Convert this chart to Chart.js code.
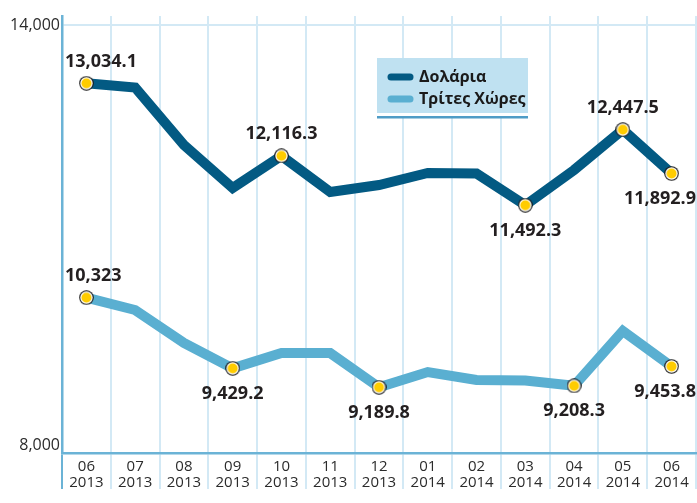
<!DOCTYPE html>
<html>
<head>
<meta charset="utf-8">
<script src="https://cdn.jsdelivr.net/npm/chart.js@4/dist/chart.umd.min.js"></script>
<style>
  html, body { margin: 0; padding: 0; background: #fff; }
  #wrap { width: 697px; height: 503px; position: relative; }
</style>
</head>
<body>
<div id="wrap"><canvas id="chart"></canvas></div>
<script>
// Μήνες / έτη του άξονα Χ
var months = ['06', '07', '08', '09', '10', '11', '12', '01', '02', '03', '04', '05', '06'];
var years = ['2013', '2013', '2013', '2013', '2013', '2013', '2013', '2014', '2014', '2014', '2014', '2014', '2014'];

// Τιμές των σειρών
var dollarValues = [13034.1, 12981, 12254, 11710, 12116.3, 11659, 11748, 11900, 11894, 11492.3, 11938, 12447.5, 11892.9];
var thirdValues = [10323, 10167, 9750, 9429.2, 9623, 9623, 9189.8, 9383, 9282, 9276, 9208.3, 9902, 9453.8];

// Σημεία με ετικέτα (δείκτες)
var dollarMarked = [0, 4, 9, 11, 12];
var thirdMarked = [0, 3, 6, 10, 12];

// Ετικέτες άξονα Υ
var yTickLabels = ['8,000', '14,000'];

var Y_MIN = 8359, Y_MAX = 13885, Y_BOTTOM_TICK = 8460, Y_TOP_TICK = 13771;

var seriesNames = ['Δολάρια', 'Τρίτες Χώρες'];
var colors = ['#035a83', '#5aafd1'];

// κίτρινος δείκτης με λευκό δακτύλιο
var dot = document.createElement('canvas');
dot.width = 15; dot.height = 15;
(function() {
    var c = dot.getContext('2d');
    [[7.3, '#1a1a1a'], [6.2, '#ffffff'], [5, '#ffcc00']].forEach(function(r) {
        c.beginPath();
        c.arc(7.5, 7.5, r[0], 0, Math.PI * 2);
        c.fillStyle = r[1];
        c.fill();
    });
})();

function radii(marked) {
    return months.map(function(m, i) { return marked.indexOf(i) >= 0 ? 7 : 0; });
}

function fmt(v) {
    return v.toLocaleString('en-US', { maximumFractionDigits: 1 });
}

// ετικέτες τιμών πάνω/κάτω από τα σημεία
var valueLabels = {
    id: 'valueLabels',
    afterDatasetsDraw: function(chart) {
        var ctx = chart.ctx, area = chart.chartArea;
        ctx.save();
        ctx.font = 'bold 18px "Open Sans"';
        ctx.fillStyle = '#231f20';
        ctx.textAlign = 'center';
        ctx.textBaseline = 'alphabetic';
        chart.data.datasets.forEach(function(ds, di) {
            var meta = chart.getDatasetMeta(di);
            ds.marked.forEach(function(idx) {
                var el = meta.data[idx];
                var txt = fmt(ds.data[idx]);
                var w = ctx.measureText(txt).width;
                var x = el.x;
                if (x - w / 2 < area.left + 3) x = area.left + 3 + w / 2;
                if (x + w / 2 > chart.width - 1) x = chart.width - 1 - w / 2;
                var up = ds.above.indexOf(idx) >= 0;
                var cy = el.y + (up ? -23 : 24);
                ctx.fillText(txt, x, cy + 6.4);
            });
        });
        ctx.restore();
    }
};

// υπόμνημα μέσα στο γράφημα
var boxLegend = {
    id: 'boxLegend',
    beforeDatasetsDraw: function(chart) {
        var ctx = chart.ctx;
        var bx = 377, by = 58, bw = 151, bh = 55;
        ctx.save();
        ctx.fillStyle = '#bfe1f1';
        ctx.fillRect(bx, by, bw, bh);
        ctx.fillStyle = '#ffffff';
        ctx.fillRect(bx, by + bh, bw, 3);
        ctx.fillStyle = '#4f9cc6';
        ctx.fillRect(bx, by + bh + 3, bw, 2.5);
        chart.data.datasets.forEach(function(ds, i) {
            var y = by + 19 + i * 22;
            ctx.strokeStyle = ds.borderColor;
            ctx.lineWidth = 7;
            ctx.lineCap = 'round';
            ctx.beginPath();
            ctx.moveTo(bx + 14, y);
            ctx.lineTo(bx + 33, y);
            ctx.stroke();
            ctx.fillStyle = '#1a1a1a';
            ctx.font = 'bold 16px "Open Sans"';
            ctx.textBaseline = 'middle';
            ctx.textAlign = 'left';
            ctx.fillText(ds.label, bx + 42, y);
        });
        ctx.restore();
    }
};

var ctx = document.getElementById('chart').getContext('2d');

new Chart(ctx, {
    type: 'line',
    data: {
        labels: months.map(function(m, i) { return [m, years[i]]; }),
        datasets: [{
            label: seriesNames[0],
            data: dollarValues,
            marked: dollarMarked,
            above: [0, 4, 11],
            borderColor: colors[0],
            borderWidth: 10,
            borderJoinStyle: 'miter',
            pointStyle: dot,
            pointRadius: radii(dollarMarked),
            tension: 0
        }, {
            label: seriesNames[1],
            data: thirdValues,
            marked: thirdMarked,
            above: [0],
            borderColor: colors[1],
            borderWidth: 10,
            borderJoinStyle: 'miter',
            pointStyle: dot,
            pointRadius: radii(thirdMarked),
            tension: 0
        }]
    },
    options: {
        responsive: true,
        maintainAspectRatio: false,
        animation: false,
        layout: { autoPadding: false, padding: { top: 16, left: 0, right: 1, bottom: 0 } },
        plugins: {
            legend: { display: false },
            tooltip: { enabled: false }
        },
        scales: {
            x: {
                offset: true,
                grid: {
                    offset: true,
                    lineWidth: 2,
                    tickLength: 36,
                    color: function(c) {
                        return (c.index === 0 || c.index === months.length) ? '#6bb3d6' : '#d3e9f5';
                    }
                },
                border: { color: '#6bb3d6', width: 2.5 },
                ticks: {
                    padding: -30,
                    color: '#2b2b2b',
                    maxRotation: 0,
                    autoSkip: false,
                    font: { family: 'Open Sans', size: 15, lineHeight: 1.07 }
                },
                afterFit: function(s) {
                    s.height = 50;
                    s.paddingLeft = 0;
                    s.paddingRight = 0;
                }
            },
            y: {
                min: Y_MIN,
                max: Y_MAX,
                afterBuildTicks: function(s) {
                    s.ticks = [{ value: Y_BOTTOM_TICK }, { value: Y_TOP_TICK }];
                },
                grid: {
                    drawTicks: false,
                    lineWidth: 2,
                    color: function(c) { return c.index === 1 ? '#d3e9f5' : 'rgba(0,0,0,0)'; }
                },
                border: { color: '#6bb3d6', width: 2.5 },
                ticks: {
                    padding: 2,
                    color: '#2b2b2b',
                    font: { family: 'Open Sans', size: 16 },
                    callback: function(v, i) { return yTickLabels[i]; }
                },
                afterFit: function(s) {
                    s.width = 62;
                    s.paddingTop = 0;
                    s.paddingBottom = 0;
                }
            }
        }
    },
    plugins: [boxLegend, valueLabels]
});
</script>
</body>
</html>
